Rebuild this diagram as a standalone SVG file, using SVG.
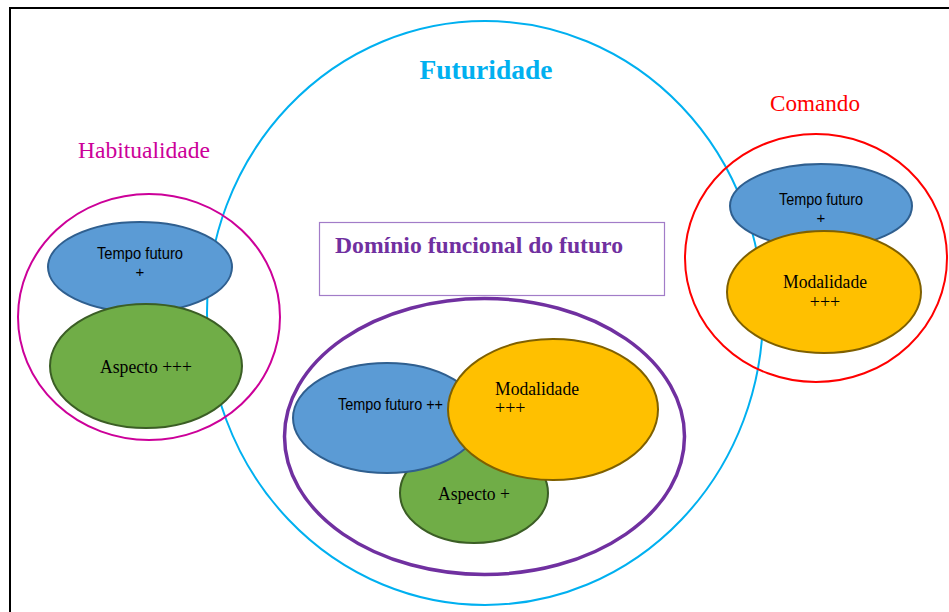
<svg xmlns="http://www.w3.org/2000/svg" width="949" height="612" viewBox="0 0 949 612">
<style>
.blue{fill:#5B9BD5;stroke:#2F5F8F;stroke-width:2}
.green{fill:#70AD47;stroke:#3B5E25;stroke-width:2}
.yellow{fill:#FFC000;stroke:#7F6000;stroke-width:2}
.sans{font-family:"Liberation Sans",Arial,sans-serif;fill:#000}
.serif{font-family:"Liberation Serif","Times New Roman",serif;fill:#000}
</style>
<rect x="10" y="8" width="960" height="640" fill="#fff" stroke="#000" stroke-width="2"/>
<g id="futuridade">
<ellipse cx="485" cy="313" rx="278" ry="292" fill="none" stroke="#00B0F0" stroke-width="2"/>
<text x="486" y="79" text-anchor="middle" class="serif" font-weight="bold" font-size="28" fill="#00B0F0" style="fill:#00B0F0" textLength="133" lengthAdjust="spacingAndGlyphs">Futuridade</text>
</g>
<g id="habitualidade">
<ellipse cx="149" cy="317" rx="131" ry="123" fill="none" stroke="#CC0099" stroke-width="2"/>
<text x="144" y="158" text-anchor="middle" class="serif" font-size="23" style="fill:#CC0099" textLength="132" lengthAdjust="spacingAndGlyphs">Habitualidade</text>
</g>
<g id="comando">
<ellipse cx="816" cy="258" rx="131" ry="124" fill="none" stroke="#FF0000" stroke-width="2"/>
<text x="815" y="111" text-anchor="middle" class="serif" font-size="24" style="fill:#FF0000" textLength="90" lengthAdjust="spacingAndGlyphs">Comando</text>
</g>
<g id="dominio">
<rect x="319.5" y="222.5" width="345" height="73" fill="#fff" stroke="#A27CC8" stroke-width="1.2"/>
<text x="335" y="253" class="serif" font-weight="bold" font-size="23" style="fill:#7030A0" textLength="288" lengthAdjust="spacingAndGlyphs">Domínio funcional do futuro</text>
</g>
<g id="dominio-ellipse">
<ellipse cx="484.5" cy="436.5" rx="200" ry="138" fill="none" stroke="#7030A0" stroke-width="3.5"/>
</g>
<g id="hab-tempo">
<ellipse class="blue" cx="140" cy="267" rx="92" ry="45"/>
<text x="140" y="259" text-anchor="middle" class="sans" font-size="16" textLength="86" lengthAdjust="spacingAndGlyphs">Tempo futuro</text>
<text x="140" y="277" text-anchor="middle" class="sans" font-size="15">+</text>
</g>
<g id="hab-aspecto">
<ellipse class="green" cx="146" cy="366" rx="96" ry="62"/>
<text x="146" y="373" text-anchor="middle" class="serif" font-size="19" textLength="92" lengthAdjust="spacingAndGlyphs">Aspecto +++</text>
</g>
<g id="com-tempo">
<ellipse class="blue" cx="821" cy="206" rx="91" ry="42"/>
<text x="821" y="205" text-anchor="middle" class="sans" font-size="16" textLength="84" lengthAdjust="spacingAndGlyphs">Tempo futuro</text>
<text x="821" y="223" text-anchor="middle" class="sans" font-size="15">+</text>
</g>
<g id="com-modalidade">
<ellipse class="yellow" cx="824" cy="292" rx="97" ry="61"/>
<text x="825" y="288" text-anchor="middle" class="serif" font-size="19" textLength="84" lengthAdjust="spacingAndGlyphs">Modalidade</text>
<text x="825" y="308" text-anchor="middle" class="serif" font-size="18">+++</text>
</g>
<g id="dom-aspecto">
<ellipse class="green" cx="474" cy="493" rx="74" ry="50"/>
<text x="474" y="500" text-anchor="middle" class="serif" font-size="18" textLength="72" lengthAdjust="spacingAndGlyphs">Aspecto +</text>
</g>
<g id="dom-tempo">
<ellipse class="blue" cx="387" cy="418" rx="94" ry="55"/>
<text x="338" y="410" class="sans" font-size="16" textLength="105" lengthAdjust="spacingAndGlyphs">Tempo futuro ++</text>
</g>
<g id="dom-modalidade">
<ellipse class="yellow" cx="553" cy="409.5" rx="105" ry="70.5"/>
<text x="495" y="395" class="serif" font-size="19" textLength="84" lengthAdjust="spacingAndGlyphs">Modalidade</text>
<text x="495" y="414" class="serif" font-size="18">+++</text>
</g>
<g id="connectors"></g>
</svg>
